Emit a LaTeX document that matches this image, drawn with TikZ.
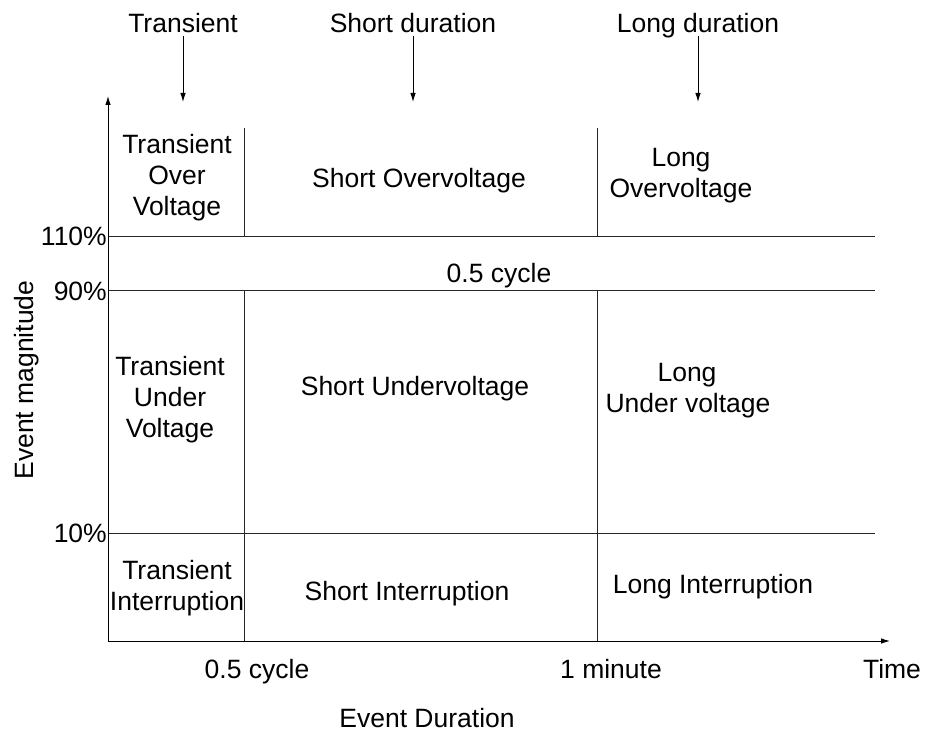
\documentclass[tikz,border=0pt]{standalone}
\usepackage{fontspec}
\setmainfont{Liberation Sans}
\usetikzlibrary{arrows.meta}
\begin{document}
\begin{tikzpicture}[x=1pt,y=-1pt,
  lbl/.style={inner sep=0pt,align=center,anchor=base,font=\fontsize{26.5}{31}\selectfont},
  gridline/.style={draw=black!85,line width=0.9pt},
  arr/.style={draw=black,line width=0.9pt,-{Latex[length=9pt,width=5.5pt]}}]
\useasboundingbox (0,0) rectangle (925,730);
% axes coordinates
\coordinate (o) at (108,641);
\coordinate (ytip) at (108,96);
\coordinate (xtip) at (890,641);
% grid
\coordinate (h110a) at (108,236); \coordinate (h110b) at (875,236);
\coordinate (h90a) at (108,290); \coordinate (h90b) at (875,290);
\coordinate (h10a) at (108,533); \coordinate (h10b) at (875,533);
\coordinate (v1t) at (244,128); \coordinate (v1m) at (244,236);
\coordinate (v1n) at (244,290); \coordinate (v1b) at (244,641);
\coordinate (v2t) at (597,128); \coordinate (v2m) at (597,236);
\coordinate (v2n) at (597,290); \coordinate (v2b) at (597,641);
\draw[gridline] (h110a) -- (h110b);
\draw[gridline] (h90a) -- (h90b);
\draw[gridline] (h10a) -- (h10b);
\draw[gridline] (v1t) -- (v1m);
\draw[gridline] (v1n) -- (v1b);
\draw[gridline] (v2t) -- (v2m);
\draw[gridline] (v2n) -- (v2b);
\draw[arr] (o) -- (ytip);
\draw[arr] (o) -- (xtip);
% top labels and arrows
\node[lbl] (ttr) at (183,33) {Transient};
\node[lbl] (tsh) at (413,33) {Short duration};
\node[lbl] (tlo) at (698,33) {Long duration};
\coordinate (ttrp) at (183,102);
\coordinate (tshp) at (413,102);
\coordinate (tlop) at (698,102);
\draw[arr] ([yshift=-3pt]ttr.base) -- (ttrp);
\draw[arr] ([yshift=-3pt]tsh.base) -- (tshp);
\draw[arr] ([yshift=-3pt]tlo.base) -- (tlop);
% percent labels
\node[lbl,anchor=base east] (p110) at (107,245) {110\%};
\node[lbl,anchor=base east] (p90) at (107,300) {90\%};
\node[lbl,anchor=base east] (p10) at (107,542) {10\%};
\node[lbl,rotate=90] (ym) at (33,380) {Event magnitude};
% cells (base anchor = baseline of the last line)
\node[lbl] (tov) at (177,215) {Transient\\Over\\Voltage};
\node[lbl] (sov) at (419,187) {Short Overvoltage};
\node[lbl] (lov) at (681,197) {Long\\Overvoltage};
\node[lbl] (band) at (499,282) {0.5 cycle};
\node[lbl] (tuv) at (170,437) {Transient\\Under\\Voltage};
\node[lbl] (suv) at (415,395) {Short Undervoltage};
\node[lbl] (luv) at (688,412) {\hspace*{-2pt}Long\\Under voltage};
\node[lbl] (tin) at (177,610) {Transient\\Interruption};
\node[lbl] (sin) at (407,600) {Short Interruption};
\node[lbl] (lin) at (713,593) {Long Interruption};
% bottom labels
\node[lbl] (bc) at (257,678) {0.5 cycle};
\node[lbl] (bm) at (611,678) {1 minute};
\node[lbl] (bt) at (892,678) {Time};
\node[lbl] (ed) at (427,727) {Event Duration};
\end{tikzpicture}
\end{document}
